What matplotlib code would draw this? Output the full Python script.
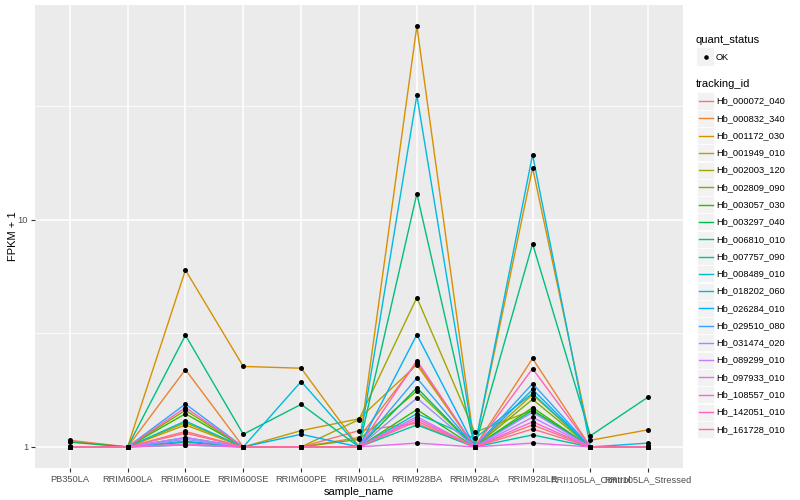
import numpy as np
import matplotlib
matplotlib.use("Agg")
import matplotlib.pyplot as plt
from matplotlib.lines import Line2D
from matplotlib.patches import Rectangle

plt.rcParams['font.family'] = ['Liberation Sans', 'DejaVu Sans']

samples = ["PB350LA", "RRIM600LA", "RRIM600LE", "RRIM600SE", "RRIM600PE",
           "RRIM901LA", "RRIM928BA", "RRIM928LA", "RRIM928LE",
           "RRII105LA_Control", "RRII105LA_Stressed"]

tracking_ids = ["Hb_000072_040", "Hb_000832_340", "Hb_001172_030", "Hb_001949_010",
                "Hb_002003_120", "Hb_002809_090", "Hb_003057_030", "Hb_003297_040",
                "Hb_006810_010", "Hb_007757_090", "Hb_008489_010", "Hb_018202_060",
                "Hb_026284_010", "Hb_029510_080", "Hb_031474_020", "Hb_089299_010",
                "Hb_097933_010", "Hb_108557_010", "Hb_142051_010", "Hb_161728_010"]

colors = ["#F8766D", "#EA8331", "#D89000", "#C09B00", "#A3A500", "#7CAE00",
          "#39B600", "#00BB4E", "#00BF7D", "#00C1A3", "#00BFC4", "#00BAE0",
          "#00B0F6", "#35A2FF", "#9590FF", "#C77CFF", "#E76BF3", "#FA62DB",
          "#FF62BC", "#FF6C91"]

# FPKM + 1 values, one list per tracking_id, in sample order
Hb_000072_040 = [1.07, 1, 1.17, 1, 1, 1.18, 1.27, 1, 1.25, 1, 1]
Hb_000832_340 = [1.06, 1, 2.19, 1, 1, 1.10, 2.35, 1, 2.45, 1, 1]
Hb_001172_030 = [1.00, 1, 6.00, 2.26, 2.22, 1.00, 71.0, 1, 16.9, 1.07, 1.19]
Hb_001949_010 = [1.00, 1, 1.25, 1, 1.18, 1.33, 2.30, 1, 1.70, 1, 1]
Hb_002003_120 = [1.00, 1, 1.28, 1, 1, 1.32, 4.54, 1.16, 1.45, 1, 1]
Hb_002809_090 = [1.00, 1, 1.45, 1, 1, 1.08, 1.76, 1, 1.62, 1, 1]
Hb_003057_030 = [1.00, 1, 1.40, 1, 1, 1.00, 1.46, 1, 1.49, 1, 1]
Hb_003297_040 = [1.05, 1, 1.05, 1, 1, 1.00, 1.82, 1, 1.45, 1, 1]
Hb_006810_010 = [1.00, 1, 3.10, 1.137, 1.54, 1.00, 13.0, 1, 7.83, 1.12, 1.66]
Hb_007757_090 = [1.00, 1, 1.02, 1, 1, 1.00, 1.25, 1, 1.13, 1, 1]
Hb_008489_010 = [1.00, 1, 1.30, 1, 1, 1.00, 1.40, 1.09, 1.72, 1, 1]
Hb_018202_060 = [1.00, 1, 1.06, 1, 1.94, 1.00, 35.2, 1, 19.3, 1, 1.04]
Hb_026284_010 = [1.00, 1, 1.10, 1, 1.137, 1.00, 3.12, 1, 1.79, 1, 1]
Hb_029510_080 = [1.00, 1, 1.545, 1, 1, 1.00, 2.01, 1, 1.90, 1, 1]
Hb_031474_020 = [1.00, 1, 1.08, 1, 1, 1.00, 1.64, 1, 1.42, 1, 1]
Hb_089299_010 = [1.00, 1, 1.10, 1, 1, 1.00, 1.36, 1, 1.35, 1, 1]
Hb_097933_010 = [1.00, 1, 1.02, 1, 1, 1.00, 1.04, 1, 1.04, 1, 1]
Hb_108557_010 = [1.00, 1, 1.03, 1, 1, 1.00, 1.33, 1, 1.29, 1, 1]
Hb_142051_010 = [1.00, 1, 1.49, 1, 1, 1.00, 2.40, 1, 2.21, 1, 1]
Hb_161728_010 = [1.00, 1, 1.15, 1, 1, 1.00, 1.30, 1, 1.20, 1, 1]

series = [Hb_000072_040, Hb_000832_340, Hb_001172_030, Hb_001949_010,
          Hb_002003_120, Hb_002809_090, Hb_003057_030, Hb_003297_040,
          Hb_006810_010, Hb_007757_090, Hb_008489_010, Hb_018202_060,
          Hb_026284_010, Hb_029510_080, Hb_031474_020, Hb_089299_010,
          Hb_097933_010, Hb_108557_010, Hb_142051_010, Hb_161728_010]

W, H = 800, 500
fig = plt.figure(figsize=(W / 100, H / 100), dpi=100)
fig.patch.set_facecolor("white")

# panel in pixel coordinates
pl, pr, pt, pb = 35, 683, 5, 468
ax = fig.add_axes([pl / W, 1 - pb / H, (pr - pl) / W, (pb - pt) / H])
ax.set_facecolor("#EBEBEB")
for s in ax.spines.values():
    s.set_visible(False)

x = np.arange(len(samples))
ax.set_yscale("log")
allv = np.log10(np.array(series, dtype=float))
lo, hi = allv.min(), allv.max()
r = hi - lo
ax.set_ylim(10 ** (lo - 0.05 * r), 10 ** (hi + 0.05 * r))
ax.set_xlim(-0.6, len(samples) - 0.4)

# grid
for yv in [10 ** 0.5, 10 ** 1.5]:
    ax.axhline(yv, color="white", lw=0.55, zorder=0.5)
for yv in [1, 10]:
    ax.axhline(yv, color="white", lw=1.1, zorder=0.6)
for xv in x:
    ax.axvline(xv, color="white", lw=1.1, zorder=0.6)

for vals, c in zip(series, colors):
    ax.plot(x, vals, color=c, lw=1.0, zorder=2, solid_capstyle="butt")
for vals in series:
    ax.plot(x, vals, ls="none", marker="o", ms=3.6, mfc="black", mec="black",
            mew=0, zorder=3)

ax.set_yticks([1, 10])
ax.set_yticklabels(["1", "10"])
ax.yaxis.set_minor_locator(matplotlib.ticker.NullLocator())
ax.set_xticks(x)
ax.set_xticklabels(samples)
ax.tick_params(axis="both", which="major", length=3, width=0.8, color="#333333",
               labelsize=6.7, labelcolor="#4D4D4D", pad=2)
ax.set_xlabel("sample_name", fontsize=8, labelpad=2)
ax.set_ylabel("FPKM + 1", fontsize=8, labelpad=0)

# legend drawn manually in pixel coordinates
def fx(px):
    return px / W

def fy(py):
    return 1 - py / H

key_l, key_w, key_h = 697, 17, 17
fig.text(fx(696), fy(40), "quant_status", fontsize=8, va="center", ha="left")
fig.patches.append(Rectangle((fx(key_l), fy(57 + key_h / 2)), key_w / W, key_h / H,
                             transform=fig.transFigure, facecolor="#F2F2F2",
                             edgecolor="none"))
fig.lines.append(Line2D([fx(key_l + key_w / 2)], [fy(57)], transform=fig.transFigure,
                        marker="o", ms=3.3, mfc="black", mec="black", mew=0, ls="none"))
fig.text(fx(716), fy(57), "OK", fontsize=6.7, va="center", ha="left")

fig.text(fx(696), fy(84), "tracking_id", fontsize=8, va="center", ha="left")
step = 17.28
for i, (tid, c) in enumerate(zip(tracking_ids, colors)):
    cy = 101 + i * step
    fig.patches.append(Rectangle((fx(key_l), fy(cy + key_h / 2)), key_w / W, key_h / H,
                                 transform=fig.transFigure, facecolor="#F2F2F2",
                                 edgecolor="white", lw=0.5))
    fig.lines.append(Line2D([fx(key_l + 1.5), fx(key_l + key_w - 1.5)], [fy(cy), fy(cy)],
                            transform=fig.transFigure, color=c, lw=1.0))
    fig.text(fx(716), fy(cy), tid, fontsize=6.7, va="center", ha="left")

fig.savefig("out.png", dpi=100)
